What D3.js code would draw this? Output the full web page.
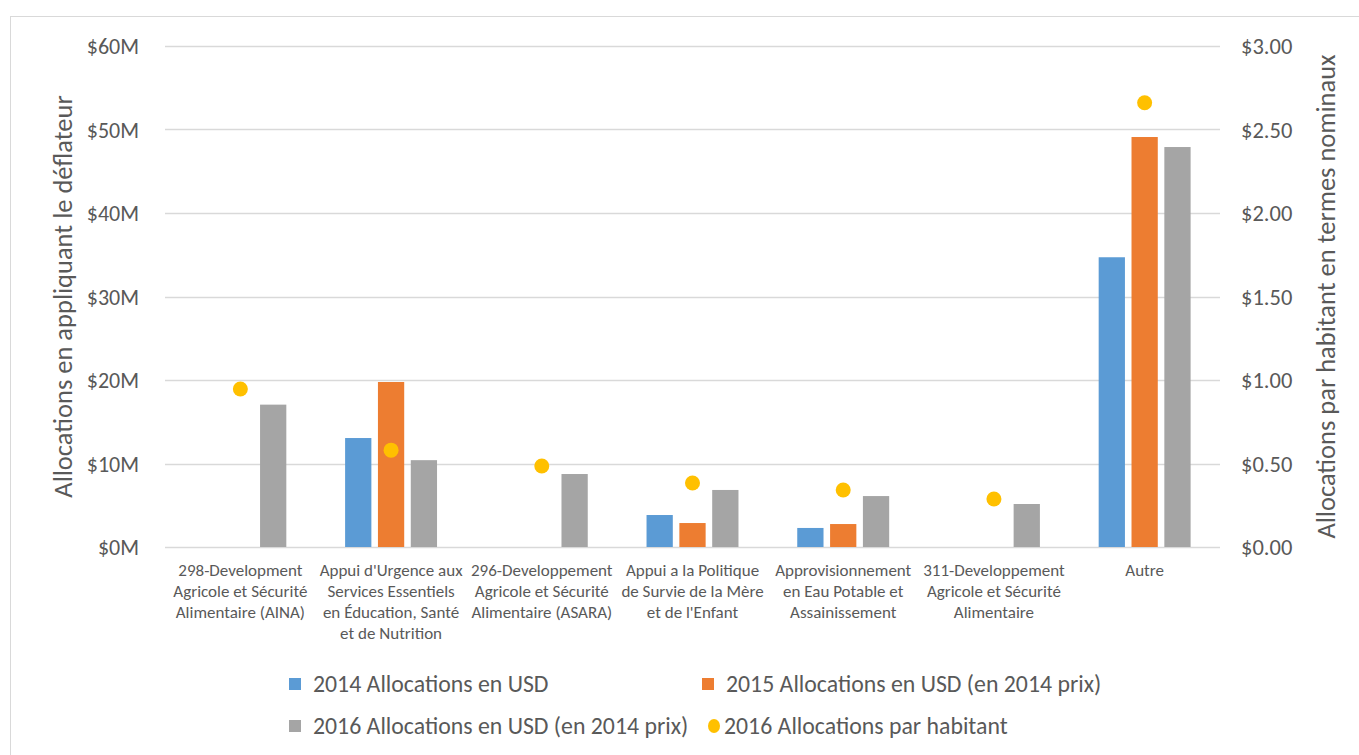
<!DOCTYPE html>
<html>
<head>
<meta charset="utf-8">
<script src="https://cdn.jsdelivr.net/npm/d3@7"></script>
<style>
  body { margin: 0; background: #fff; }
  svg { font-family: Carlito, "Liberation Sans Narrow", "Open Sans", sans-serif; }
</style>
</head>
<body>
<svg width="1359" height="755"></svg>
<script>
var categories = [
  ["298-Development", "Agricole et Sécurité", "Alimentaire (AINA)"],
  ["Appui d'Urgence aux", "Services Essentiels", "en Éducation, Santé", "et de Nutrition"],
  ["296-Developpement", "Agricole et Sécurité", "Alimentaire (ASARA)"],
  ["Appui a la Politique", "de Survie de la Mère", "et de l'Enfant"],
  ["Approvisionnement", "en Eau Potable et", "Assainissement"],
  ["311-Developpement", "Agricole et Sécurité", "Alimentaire"],
  ["Autre"]
];
var seriesNames = ["2014 Allocations en USD", "2015 Allocations en USD (en 2014 prix)", "2016 Allocations en USD (en 2014 prix)"];
var alloc2014 = [0, 13.05, 0, 3.83, 2.28, 0, 34.7];
var alloc2015 = [0, 19.76, 0, 2.87, 2.75, 0, 49.1];
var alloc2016 = [17.05, 10.4, 8.74, 6.83, 6.1, 5.15, 47.9];
var perCapita2016 = [0.946, 0.58, 0.485, 0.383, 0.341, 0.287, 2.66];
var dotName = "2016 Allocations par habitant";
var leftTicks = [0, 10, 20, 30, 40, 50, 60];
var rightTicks = [0, 0.5, 1, 1.5, 2, 2.5, 3];
var colors = ["#5b9bd5", "#ed7d31", "#a5a5a5"];
var dotColor = "#ffc000";

var svg = d3.select("svg"),
    plotLeft = 165, plotRight = 1220, plotTop = 46, plotBottom = 547;

// chart border
svg.append("rect").attr("x", 10.5).attr("y", 16.5).attr("width", 1360).attr("height", 760)
   .attr("fill", "none").attr("stroke", "#d9d9d9");

var idx = d3.range(categories.length);
var x = d3.scaleBand().domain(idx).range([plotLeft, plotRight]).paddingInner(0.39).paddingOuter(0.195);
var xs = d3.scaleBand().domain([0, 1, 2]).range([0, x.bandwidth()]).paddingInner(0.2);
var y = d3.scaleLinear().domain([0, 60]).range([plotBottom, plotTop]);
var y2 = d3.scaleLinear().domain([0, 3]).range([plotBottom, plotTop]);

// gridlines
svg.append("g").selectAll("line").data(leftTicks).enter().append("line")
   .attr("x1", plotLeft).attr("x2", plotRight)
   .attr("y1", function(d) { return Math.round(y(d)) + 0.5; })
   .attr("y2", function(d) { return Math.round(y(d)) + 0.5; })
   .attr("stroke", "#d9d9d9").attr("stroke-width", 1.5);

// left axis
var yAxis = svg.append("g").attr("transform", "translate(" + (plotLeft - 23) + ",0)")
   .call(d3.axisLeft(y).tickValues(leftTicks).tickSize(0).tickFormat(function(d) { return "$" + d + "M"; }));
yAxis.attr("font-family", null).attr("font-size", null);
yAxis.select(".domain").remove();
yAxis.selectAll("text").attr("fill", "#595959").style("font-size", "22px").attr("dy", "0.35em");

// right axis
var y2Axis = svg.append("g").attr("transform", "translate(" + (plotRight + 18) + ",0)")
   .call(d3.axisRight(y2).tickValues(rightTicks).tickSize(0).tickFormat(function(d) { return "$" + d.toFixed(2); }));
y2Axis.attr("font-family", null).attr("font-size", null);
y2Axis.select(".domain").remove();
y2Axis.selectAll("text").attr("fill", "#595959").style("font-size", "22.5px").attr("dy", "0.35em");

// axis titles
svg.append("text").attr("transform", "translate(72," + ((plotTop + plotBottom) / 2) + ") rotate(-90)")
   .attr("text-anchor", "middle").attr("fill", "#595959").style("font-size", "26.5px")
   .text("Allocations en appliquant le déflateur");
svg.append("text").attr("transform", "translate(1335," + ((plotTop + plotBottom) / 2) + ") rotate(-90)")
   .attr("text-anchor", "middle").attr("fill", "#595959").style("font-size", "26.5px")
   .text("Allocations par habitant en termes nominaux");

// bars
var seriesData = [alloc2014, alloc2015, alloc2016];
seriesData.forEach(function(vals, s) {
  var rows = vals.map(function(v, i) { return { i: i, v: v }; }).filter(function(d) { return d.v > 0; });
  svg.append("g").selectAll("rect").data(rows).enter().append("rect")
    .attr("x", function(d) { return x(d.i) + xs(s); })
    .attr("y", function(d) { return y(d.v); })
    .attr("width", xs.bandwidth())
    .attr("height", function(d) { return plotBottom - y(d.v); })
    .attr("fill", colors[s]);
});

// dots
svg.append("g").selectAll("circle").data(perCapita2016).enter().append("circle")
   .attr("cx", function(d, i) { return x(i) + x.bandwidth() / 2; })
   .attr("cy", function(d) { return y2(d); })
   .attr("r", 7.5)
   .attr("fill", dotColor);

// category labels
var catG = svg.append("g").selectAll("text").data(categories).enter().append("text")
   .attr("text-anchor", "middle").attr("fill", "#595959").style("font-size", "17px")
   .attr("transform", function(d, i) { return "translate(" + (x(i) + x.bandwidth() / 2) + ",576)"; });
catG.selectAll("tspan").data(function(d) { return d; }).enter().append("tspan")
   .attr("x", 0).attr("y", function(d, j) { return j * 21; })
   .text(function(d) { return d; });

// legend
var legend = [
  { name: seriesNames[0], color: colors[0], x: 289, y: 684, type: "rect" },
  { name: seriesNames[1], color: colors[1], x: 702, y: 684, type: "rect" },
  { name: seriesNames[2], color: colors[2], x: 289, y: 726, type: "rect" },
  { name: dotName, color: dotColor, x: 702, y: 726, type: "dot" }
];
var lg = svg.append("g").selectAll("g").data(legend).enter().append("g")
   .attr("transform", function(d) { return "translate(" + d.x + "," + d.y + ")"; });
lg.filter(function(d) { return d.type === "rect"; }).append("rect")
   .attr("x", 0).attr("y", -6).attr("width", 12).attr("height", 12).attr("fill", function(d) { return d.color; });
lg.filter(function(d) { return d.type === "dot"; }).append("ellipse")
   .attr("cx", 12).attr("cy", 0).attr("rx", 6).attr("ry", 7).attr("fill", function(d) { return d.color; });
lg.append("text").attr("x", function(d) { return d.type === "dot" ? 22 : 24; }).attr("dy", "0.35em")
   .attr("fill", "#595959").style("font-size", "23.8px")
   .text(function(d) { return d.name; });
</script>
</body>
</html>
